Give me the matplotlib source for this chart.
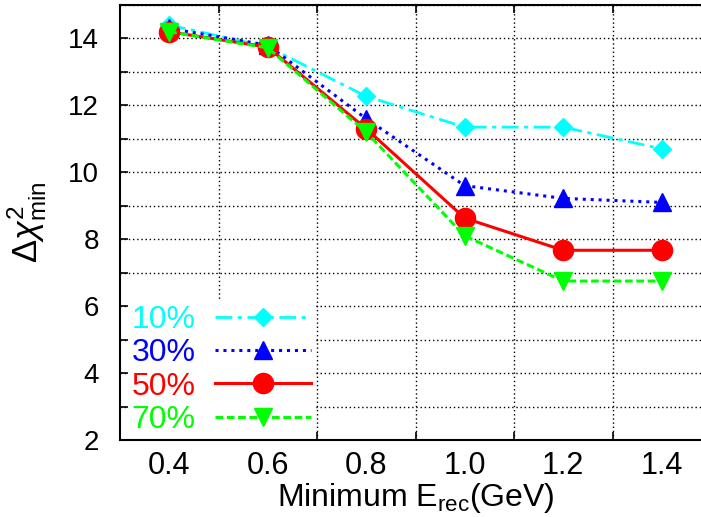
import matplotlib
matplotlib.use("Agg")
import matplotlib.pyplot as plt
from matplotlib.ticker import MultipleLocator, FixedLocator

plt.rcParams['font.family'] = ['Liberation Sans', 'DejaVu Sans']
plt.rcParams['mathtext.fontset'] = 'custom'
plt.rcParams['mathtext.rm'] = 'Liberation Sans'
plt.rcParams['mathtext.it'] = 'Liberation Sans:italic'
plt.rcParams['mathtext.bf'] = 'Liberation Sans:bold'

# Data
emin = [0.4, 0.6, 0.8, 1.0, 1.2, 1.4]
tick_labels = ["0.4", "0.6", "0.8", "1.0", "1.2", "1.4"]
chi_10 = [14.4, 13.75, 12.27, 11.35, 11.35, 10.7]
chi_30 = [14.3, 13.8, 11.6, 9.6, 9.22, 9.1]
chi_50 = [14.2, 13.74, 11.3, 8.63, 7.67, 7.67]
chi_70 = [14.2, 13.72, 11.2, 8.1, 6.75, 6.75]
labels = ["10%", "30%", "50%", "70%"]

fig = plt.figure(figsize=(7.01, 5.17), dpi=100)
W, H = 701, 517
left, right, top, bottom = 120, 711, 5, 440
ax = fig.add_axes([left / W, (H - bottom) / H, (right - left) / W, (bottom - top) / H])

l1, = ax.plot(emin, chi_10, color='#00ffff', linestyle=(0, (6, 2, 1.5, 2)), lw=2,
              marker='D', markersize=9, label=labels[0])
l2, = ax.plot(emin, chi_30, color='#0000ff', linestyle=(0, (1, 1.6)), lw=2.2,
              marker='^', markersize=13, label=labels[1])
l3, = ax.plot(emin, chi_50, color='#ff0000', linestyle='-', lw=2.2,
              marker='o', markersize=14.5, label=labels[2])
l4, = ax.plot(emin, chi_70, color='#00ff00', linestyle=(0, (2.5, 1.2)), lw=2.2,
              marker='v', markersize=13, label=labels[3])

ax.set_xlim(0.3, 1.5)
ax.set_ylim(2, 15)
ax.xaxis.set_major_locator(FixedLocator(emin))
ax.set_xticklabels(tick_labels)
ax.xaxis.set_minor_locator(FixedLocator([0.5, 0.7, 0.9, 1.1, 1.3]))
ax.yaxis.set_major_locator(MultipleLocator(2))
ax.yaxis.set_minor_locator(MultipleLocator(1))

ax.tick_params(axis='x', which='major', length=0, labelsize=22, pad=8)
ax.tick_params(axis='x', which='minor', direction='in', length=6, width=1.2, top=True, bottom=True)
ax.tick_params(axis='y', which='both', direction='in', length=6, width=1.2, left=True, right=True,
               labelsize=20, pad=15)

ax.grid(True, which='minor', axis='x', color='black', linestyle=(0, (1, 2)), lw=1)
ax.grid(True, which='both', axis='y', color='black', linestyle=(0, (1, 2)), lw=1)
ax.set_axisbelow(True)
for s in ax.spines.values():
    s.set_linewidth(1.5)

ax.set_xlabel(r'Minimum E$_{\mathrm{rec}}$(GeV)', fontsize=23, labelpad=0)
ax.set_ylabel(r'$\Delta\chi^2_{\mathrm{min}}$', fontsize=25, labelpad=14)

leg = ax.legend(handles=[l1, l2, l3, l4], loc='lower left', bbox_to_anchor=(0.013, 0.003),
                markerfirst=False, numpoints=1, fontsize=23, handlelength=3.0,
                handletextpad=0.6, labelspacing=0.1, borderpad=0.12, borderaxespad=0.0,
                frameon=True, fancybox=False, framealpha=1, edgecolor='none', facecolor='white')
leg.set_zorder(2.4)
for txt, ln in zip(leg.get_texts(), [l1, l2, l3, l4]):
    txt.set_color(ln.get_color())

fig.savefig('out.png', dpi=100)
